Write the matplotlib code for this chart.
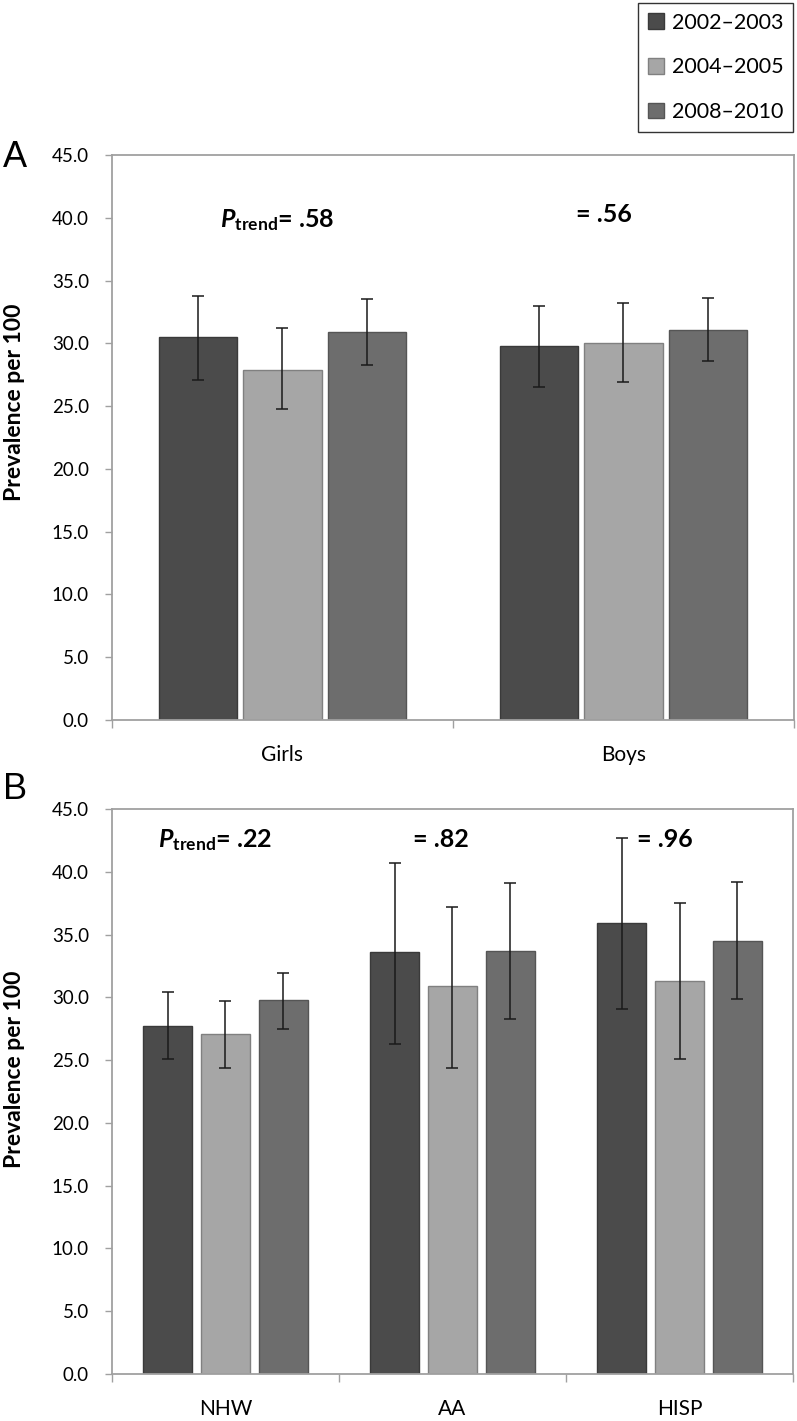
import matplotlib
matplotlib.use("Agg")
import matplotlib.pyplot as plt
from matplotlib.patches import Patch
import numpy as np

periods = ["2002–2003", "2004–2005", "2008–2010"]
colors = ["#4b4b4b", "#a6a6a6", "#6d6d6d"]
edge_colors = ["#3a3a3a", "#808080", "#555555"]

# Panel A
cats_a = ["Girls", "Boys"]
vals_a = [[30.5, 29.8], [27.9, 30.0], [30.9, 31.1]]
lo_a = [[27.1, 26.5], [24.8, 26.9], [28.3, 28.6]]
hi_a = [[33.8, 33.0], [31.2, 33.2], [33.5, 33.6]]
ptxt_a = ["= .58", "= .56"]

# Panel B
cats_b = ["NHW", "AA", "HISP"]
vals_b = [[27.7, 33.6, 35.9], [27.1, 30.9, 31.3], [29.8, 33.7, 34.5]]
lo_b = [[25.1, 26.3, 29.1], [24.4, 24.4, 25.1], [27.5, 28.3, 29.9]]
hi_b = [[30.4, 40.7, 42.7], [29.7, 37.2, 37.5], [31.9, 39.1, 39.2]]
ptxt_b = ["= .22", "= .82", "= .96"]

plt.rcParams['font.family'] = ['Lato', 'DejaVu Sans']
plt.rcParams['mathtext.fontset'] = 'custom'
plt.rcParams['mathtext.rm'] = 'Lato'
plt.rcParams['mathtext.bf'] = 'Lato:bold'
plt.rcParams['mathtext.it'] = 'Lato:italic'
plt.rcParams['mathtext.bfit'] = 'Lato:bold:italic'

fig = plt.figure(figsize=(7.97, 14.21), dpi=100)
spine_col = "#a0a0a0"


def draw_panel(ax, cats, vals, lo, hi, ptxt, bw, step, ptxt_y, ptxt_dx,
               letter, letter_y, ylab_y):
    n = len(cats)
    x = np.arange(n)
    for i in range(3):
        xs = x + (i - 1) * step
        v = np.array(vals[i])
        yerr = [v - np.array(lo[i]), np.array(hi[i]) - v]
        ax.bar(xs, v, width=bw, color=colors[i], edgecolor=edge_colors[i],
               linewidth=1.0, zorder=2)
        ax.errorbar(xs, v, yerr=yerr, fmt="none", ecolor="#1a1a1a",
                    elinewidth=1.1, capsize=4.5, capthick=1.1, zorder=3)
    ax.set_xlim(-0.5, n - 0.5)
    ax.set_ylim(0, 45)
    ax.set_yticks(np.arange(0, 46, 5))
    ax.set_yticklabels([f"{t:.1f}" for t in np.arange(0, 46, 5)], fontsize=13.5)
    ax.set_xticks(x)
    ax.set_xticklabels(cats, fontsize=15)
    ax.set_xticks(np.arange(n + 1) - 0.5, minor=True)
    ax.tick_params(axis='x', which='major', length=0, pad=18)
    ax.tick_params(axis='x', which='minor', length=5.8, color=spine_col, width=1)
    ax.tick_params(axis='y', length=5, color=spine_col, width=1, pad=11.5)
    for s in ax.spines.values():
        s.set_color(spine_col)
        s.set_linewidth(1.3)
    ax.set_ylabel("Prevalence per 100", fontsize=16.5, fontweight='bold')
    ax.yaxis.set_label_coords(-0.128, ylab_y)
    for j, t in enumerate(ptxt):
        if j == 0:
            s = r"$\mathbfit{P}_{\mathbf{trend}}$" + t
        else:
            s = t
        ax.text(j + ptxt_dx[j], ptxt_y[j], s, ha='center', va='center',
                fontsize=18, fontweight='bold', zorder=4)
    ax.text(-0.16, letter_y, letter, transform=ax.transAxes, fontsize=26,
            family='Liberation Sans', ha='left', va='center')


axA = fig.add_axes([0.1405, 0.4933, 0.8557, 0.3976])
draw_panel(axA, cats_a, vals_a, lo_a, hi_a, ptxt_a, 0.229, 0.249,
           [39.8, 40.25], [-0.015, -0.058], "A", 0.996, 0.563)

axB = fig.add_axes([0.1405, 0.0331, 0.8545, 0.3976])
draw_panel(axB, cats_b, vals_b, lo_b, hi_b, ptxt_b, 0.214, 0.255,
           [42.5, 42.6, 42.6], [-0.048, -0.052, -0.064], "B", 1.034, 0.54)

handles = [Patch(facecolor=colors[i], edgecolor=edge_colors[i], label=periods[i])
           for i in range(3)]
leg = fig.legend(handles=handles, loc='upper right',
                 bbox_to_anchor=(0.995, 0.998), fontsize=15.5,
                 frameon=True, fancybox=False, edgecolor='black',
                 handlelength=0.75, handleheight=0.75, handletextpad=0.37,
                 labelspacing=1.15, borderpad=0.45, borderaxespad=0.0)
leg.get_frame().set_linewidth(1.0)

fig.savefig("out.png", dpi=100)
